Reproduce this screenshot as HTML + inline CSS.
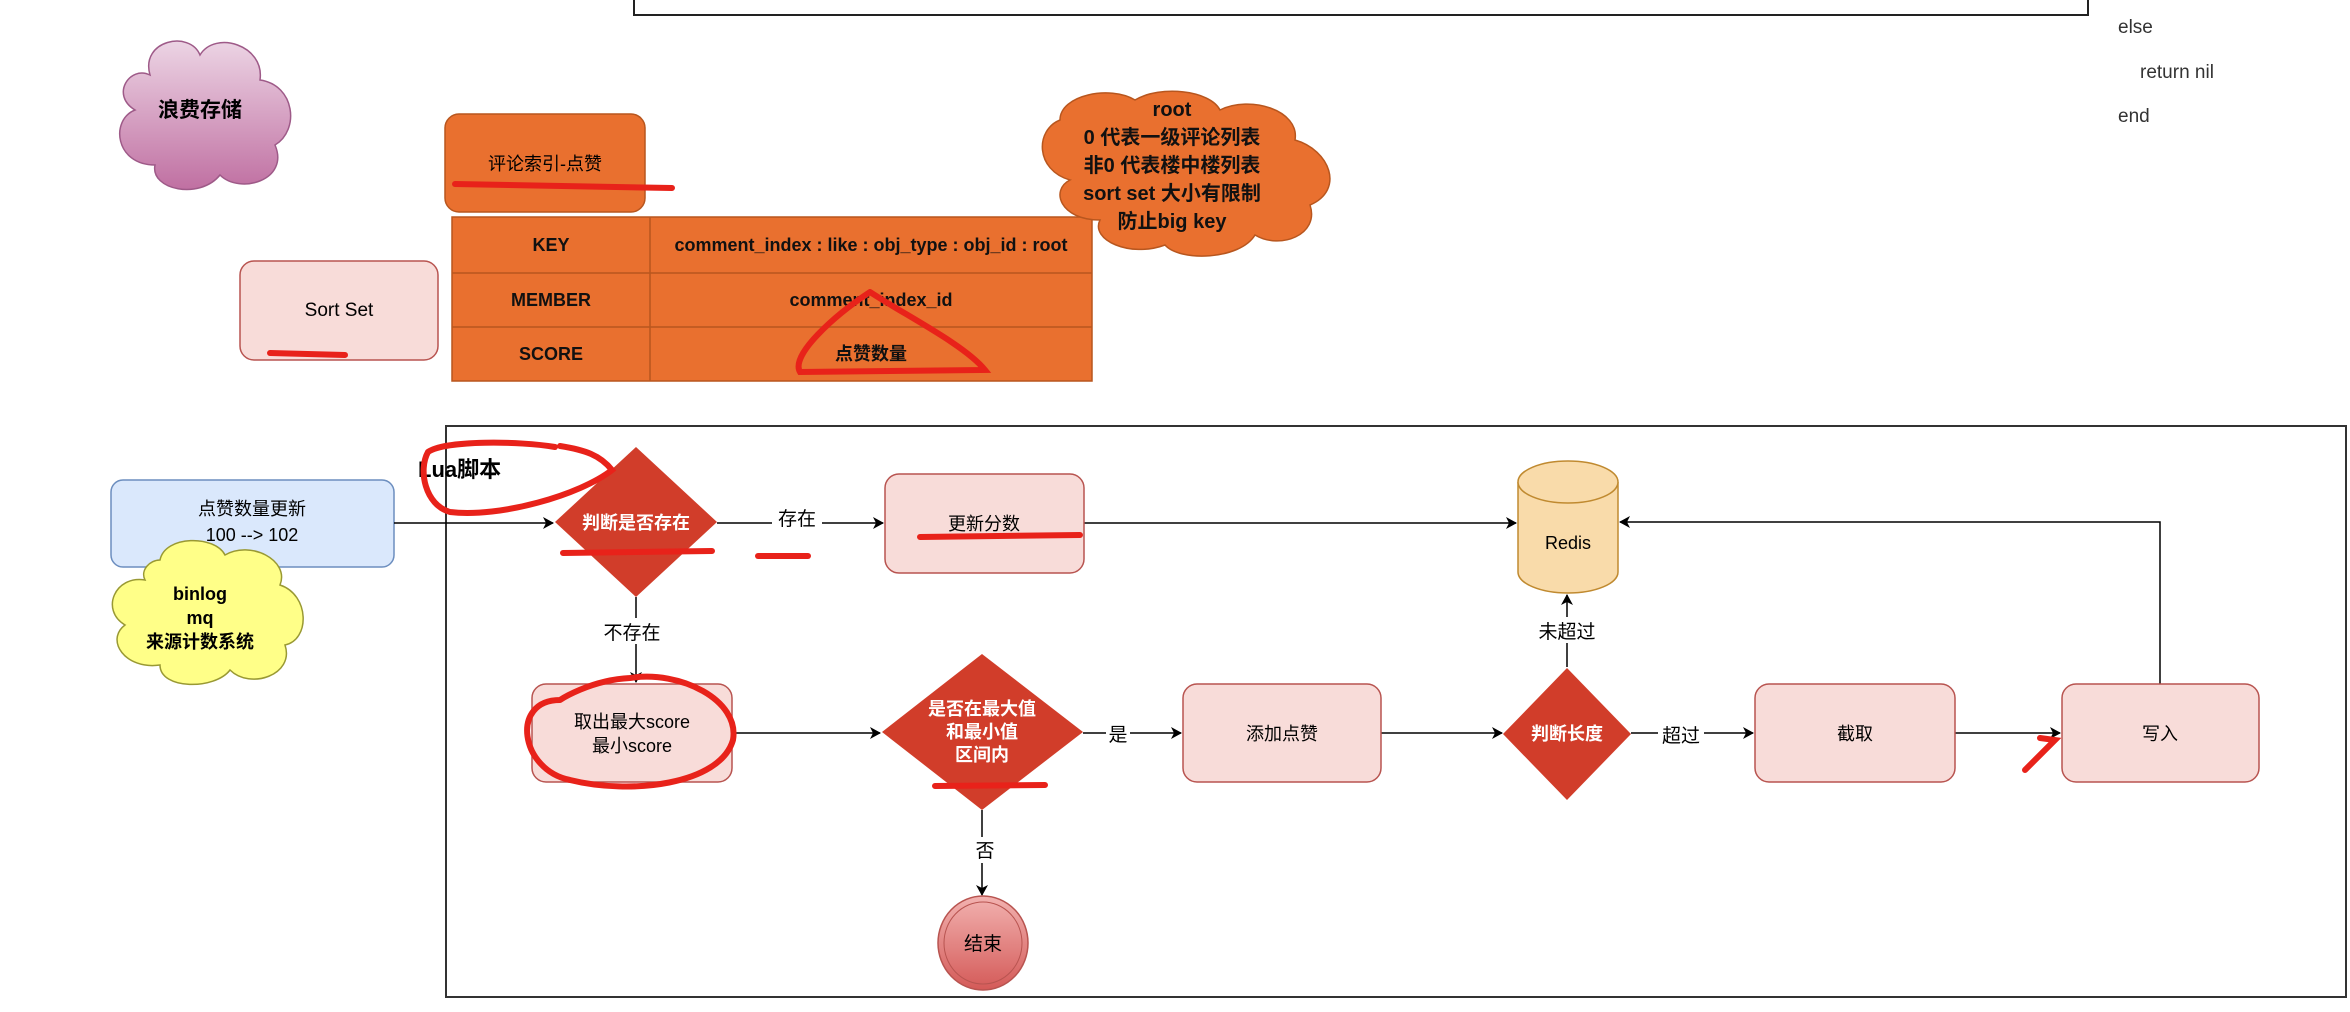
<!DOCTYPE html>
<html><head><meta charset="utf-8"><style>
html,body{margin:0;padding:0;background:#fff;}
svg{display:block;font-family:"Liberation Sans","Noto Sans CJK SC",sans-serif;}
</style></head><body>
<svg width="2350" height="1012" viewBox="0 0 2350 1012" xmlns="http://www.w3.org/2000/svg">
<defs>
<linearGradient id="pg" x1="0" y1="0" x2="0" y2="1"><stop offset="0" stop-color="#ecd4e4"/><stop offset="1" stop-color="#c070a2"/></linearGradient>
<linearGradient id="cg" x1="0" y1="0" x2="0" y2="1"><stop offset="0" stop-color="#f2b2b0"/><stop offset="1" stop-color="#d45a58"/></linearGradient>
<marker id="ar" markerWidth="12" markerHeight="12" refX="10" refY="6" orient="auto" markerUnits="userSpaceOnUse"><path d="M0,0 L11,6 L0,12 L3,6 Z" fill="#000"/></marker>
</defs>
<rect x="634" y="-10" width="1454" height="25" fill="#fff" stroke="#222" stroke-width="2"/>
<g fill="#333" font-size="19">
<text x="2118" y="33">else</text>
<text x="2140" y="78">return nil</text>
<text x="2118" y="122">end</text>
</g>
<path d="M150,75 C140,40 190,30 200,55 C215,30 265,45 260,80 C295,85 300,130 275,145 C290,180 240,195 220,175 C200,200 150,190 155,165 C115,165 110,120 135,110 C110,95 130,65 150,75 Z" fill="url(#pg)" stroke="#9e5a88" stroke-width="1.5"/>
<text x="200" y="117" font-size="21" font-weight="bold" text-anchor="middle">浪费存储</text>
<rect x="445" y="114" width="200" height="98" rx="14" fill="#e9702f" stroke="#b8561e" stroke-width="1.5"/>
<text x="545" y="170" font-size="18" text-anchor="middle">评论索引-点赞</text>
<rect x="452" y="217" width="640" height="164" fill="#e9702f" stroke="#b8561e" stroke-width="1.5"/>
<line x1="650" y1="217" x2="650" y2="381" stroke="#b8561e" stroke-width="1.5"/>
<line x1="452" y1="273" x2="1092" y2="273" stroke="#b8561e" stroke-width="1.5"/>
<line x1="452" y1="327" x2="1092" y2="327" stroke="#b8561e" stroke-width="1.5"/>
<g font-size="18" font-weight="bold" text-anchor="middle" fill="#111">
<text x="551" y="251">KEY</text>
<text x="551" y="306">MEMBER</text>
<text x="551" y="360">SCORE</text>
<text x="871" y="251">comment_index : like : obj_type : obj_id : root</text>
<text x="871" y="306">comment_index_id</text>
<text x="871" y="360">点赞数量</text>
</g>
<rect x="240" y="261" width="198" height="99" rx="14" fill="#f8dcd9" stroke="#b85450" stroke-width="1.5"/>
<text x="339" y="316" font-size="19" text-anchor="middle">Sort Set</text>
<path d="M1060,120 C1060,95 1110,85 1135,100 C1160,85 1210,90 1220,110 C1250,95 1300,110 1295,140 C1330,150 1345,190 1310,205 C1320,235 1280,250 1255,235 C1240,260 1180,262 1165,245 C1130,258 1090,240 1100,220 C1060,220 1050,190 1070,180 C1035,170 1035,130 1060,120 Z" fill="#e9702f" stroke="#b8561e" stroke-width="1.5"/>
<g font-size="20" font-weight="bold" text-anchor="middle" fill="#111">
<text x="1172" y="116">root</text>
<text x="1172" y="144">0 代表一级评论列表</text>
<text x="1172" y="172">非0 代表楼中楼列表</text>
<text x="1172" y="200">sort set 大小有限制</text>
<text x="1172" y="228">防止big key</text>
</g>
<rect x="446" y="426" width="1900" height="571" fill="none" stroke="#333" stroke-width="2"/>
<rect x="111" y="480" width="283" height="87" rx="12" fill="#dae8fc" stroke="#6c8ebf" stroke-width="1.5"/>
<text x="252" y="515" font-size="18" text-anchor="middle">点赞数量更新</text>
<text x="252" y="541" font-size="18" text-anchor="middle">100  --&gt; 102</text>
<path d="M160,560 C165,535 215,535 225,555 C250,540 290,560 280,585 C310,595 310,640 285,645 C295,675 250,690 230,670 C215,690 160,690 160,665 C125,670 105,640 125,625 C100,610 115,575 145,580 C140,570 150,560 160,560 Z" fill="#ffff88" stroke="#999933" stroke-width="1.5"/>
<g font-size="18" font-weight="bold" text-anchor="middle"><text x="200" y="600">binlog</text><text x="200" y="624">mq</text><text x="200" y="648">来源计数系统</text></g>
<g stroke="#000" stroke-width="1.5" fill="none" marker-end="url(#ar)">
<line x1="394" y1="523" x2="553" y2="523"/>
<line x1="717" y1="523" x2="883" y2="523"/>
<line x1="1084" y1="523" x2="1516" y2="523"/>
<line x1="636" y1="597" x2="636" y2="682"/>
<line x1="732" y1="733" x2="880" y2="733"/>
<line x1="1083" y1="733" x2="1181" y2="733"/>
<line x1="982" y1="810" x2="982" y2="895"/>
<line x1="1381" y1="733" x2="1502" y2="733"/>
<line x1="1567" y1="667" x2="1567" y2="595"/>
<line x1="1631" y1="733" x2="1753" y2="733"/>
<line x1="1955" y1="733" x2="2060" y2="733"/>
<polyline points="2160,684 2160,522 1620,522"/>
</g>
<g font-size="19" text-anchor="middle">
<rect x="772" y="505" width="50" height="26" fill="#fff"/><text x="797" y="525">存在</text>
<rect x="602" y="618" width="60" height="26" fill="#fff"/><text x="632" y="639">不存在</text>
<rect x="1106" y="720" width="24" height="26" fill="#fff"/><text x="1118" y="741">是</text>
<rect x="972" y="837" width="24" height="26" fill="#fff"/><text x="985" y="857">否</text>
<rect x="1535" y="617" width="64" height="26" fill="#fff"/><text x="1567" y="638">未超过</text>
<rect x="1658" y="722" width="46" height="26" fill="#fff"/><text x="1681" y="742">超过</text>
</g>
<polygon points="636,447 717,522 636,597 555,522" fill="#d13d2a"/>
<text x="636" y="529" font-size="18" font-weight="bold" fill="#fff" text-anchor="middle">判断是否存在</text>
<polygon points="982,654 1083,732 982,810 882,732" fill="#d13d2a"/>
<g font-size="18" font-weight="bold" fill="#fff" text-anchor="middle"><text x="982" y="715">是否在最大值</text><text x="982" y="738">和最小值</text><text x="982" y="761">区间内</text></g>
<polygon points="1567,668 1631,734 1567,800 1503,734" fill="#d13d2a"/>
<text x="1567" y="740" font-size="18" font-weight="bold" fill="#fff" text-anchor="middle">判断长度</text>
<g fill="#f8dcd9" stroke="#b85450" stroke-width="1.5">
<rect x="885" y="474" width="199" height="99" rx="14"/>
<rect x="532" y="684" width="200" height="98" rx="14"/>
<rect x="1183" y="684" width="198" height="98" rx="14"/>
<rect x="1755" y="684" width="200" height="98" rx="14"/>
<rect x="2062" y="684" width="197" height="98" rx="14"/>
</g>
<g font-size="18" text-anchor="middle">
<text x="984" y="530">更新分数</text>
<text x="632" y="728">取出最大score</text><text x="632" y="752">最小score</text>
<text x="1282" y="740">添加点赞</text>
<text x="1855" y="740">截取</text>
<text x="2160" y="740">写入</text>
</g>
<ellipse cx="983" cy="943" rx="45" ry="47" fill="url(#cg)" stroke="#b85450" stroke-width="1.5"/>
<ellipse cx="983" cy="943" rx="39" ry="41" fill="none" stroke="#b85450" stroke-width="1"/>
<text x="983" y="950" font-size="19" text-anchor="middle">结束</text>
<path d="M1518,482 L1518,572 A50,21 0 0 0 1618,572 L1618,482" fill="#f9dbaa" stroke="#c08a30" stroke-width="1.5"/>
<ellipse cx="1568" cy="482" rx="50" ry="21" fill="#f9dbaa" stroke="#c08a30" stroke-width="1.5"/>
<text x="1568" y="549" font-size="18" text-anchor="middle">Redis</text>
<text x="418" y="477" font-size="22" font-weight="bold">Lua脚本</text>
<g stroke="#e8221a" stroke-width="6" fill="none" stroke-linecap="round">
<path d="M455,184 L672,188"/>
<path d="M270,353 L345,355"/>
<path d="M870,292 C835,315 790,355 800,372 L985,370 C965,345 905,315 870,292"/>
<path d="M555,447 C520,441 445,440 428,452 C418,470 425,505 450,512 C500,518 580,495 612,470 C600,455 585,450 560,446"/>
<path d="M563,553 L712,551"/>
<path d="M758,556 L808,556"/>
<path d="M920,537 L1080,535"/>
<path d="M560,700 C510,700 520,770 570,780 C630,795 720,785 733,740 C740,700 680,670 630,678 C590,680 560,700 560,700"/>
<path d="M935,786 L1045,785"/>
<path d="M2025,770 L2055,740 L2040,738"/>
</g>
</svg>
</body></html>
